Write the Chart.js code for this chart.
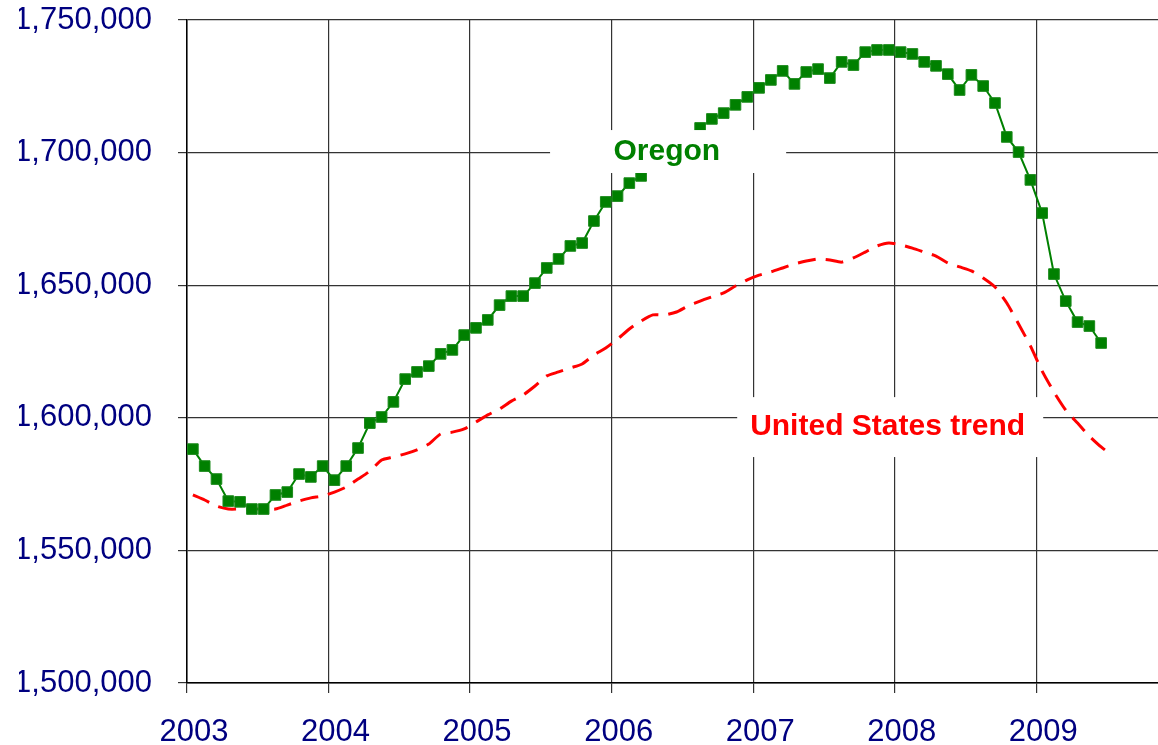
<!DOCTYPE html>
<html>
<head>
<meta charset="utf-8">
<script src="https://cdn.jsdelivr.net/npm/chart.js@4/dist/chart.umd.min.js"></script>
<style>
  html, body { margin: 0; padding: 0; background: #fff; overflow: hidden; }
  #wrap { width: 1158px; height: 745px; position: relative; }
  canvas { display: block; }
</style>
</head>
<body>
<div id="wrap"><canvas id="empChart"></canvas></div>
<script>
// monthly series, Jan 2003 onward
const startYear = 2003;
const yearTicks = [2003, 2004, 2005, 2006, 2007, 2008, 2009];

const oregon = [
  1588200, 1581800, 1576900, 1568600, 1568300, 1565600, 1565600, 1570900, 1572000, 1578800, 1577700, 1581800,
  1576500, 1581800, 1588600, 1598000, 1600300, 1606000, 1614600, 1617300, 1619500, 1624100, 1625600, 1631200,
  1633900, 1636900, 1642500, 1645900, 1645900, 1650800, 1656500, 1659900, 1664800, 1665900, 1674200, 1681400,
  1683600, 1688500, 1691200, 1694600, 1698000, 1701000, 1705100, 1709300, 1712700, 1714900, 1718000, 1721000,
  1724400, 1727400, 1730800, 1725900, 1730400, 1731500, 1728100, 1734200, 1733000, 1737900, 1738700, 1738700,
  1737900, 1737200, 1734200, 1732700, 1729600, 1723600, 1729300, 1725100, 1718700, 1705900, 1700200, 1689700,
  1677200, 1654200, 1644000, 1636100, 1634600, 1628200
];

const usTrend = [
  1570900, 1569000, 1566700, 1565600, 1565600, 1565600, 1565600, 1565600, 1567100, 1568600, 1569800, 1570500,
  1572000, 1573900, 1576900, 1579900, 1584100, 1585200, 1586400, 1587900, 1590100, 1593900, 1594600, 1595800,
  1598400, 1601100, 1603300, 1606300, 1608600, 1612000, 1615800, 1617300, 1618800, 1620300, 1623700, 1626300,
  1629700, 1633500, 1636500, 1638800, 1638800, 1639900, 1642200, 1644000, 1645600, 1647100, 1649700, 1652000,
  1653800, 1655000, 1656500, 1658000, 1659100, 1659900, 1659500, 1658700, 1660300, 1662500, 1664800, 1665900,
  1665200, 1664000, 1662500, 1661000, 1658400, 1656900, 1655400, 1652700, 1649300, 1643300, 1635400, 1627100,
  1617600, 1609700, 1602900, 1598000, 1593100, 1589000, 1585600
];

const monthly = vals => vals.map((v, i) => ({ x: startYear + (i + 0.5) / 12, y: v }));

// text callouts, placed in data units
const callouts = [
  { text: 'Oregon', color: '#008000', x0: 2005.565, x1: 2007.233, y0: 1708500, y1: 1692300, tx: 2006.39, ty: 1700200 },
  { text: 'United States trend', color: '#ff0000', x0: 2006.887, x1: 2009.049, y0: 1607800, y1: 1585200, tx: 2007.95, ty: 1596500 }
];

const FONT = "'Liberation Sans', Arial, sans-serif";

const calloutPlugin = {
  id: 'callouts',
  afterDatasetsDraw(chart) {
    const { ctx, scales: { x, y } } = chart;
    ctx.save();
    callouts.forEach(c => {
      const l = x.getPixelForValue(c.x0), r = x.getPixelForValue(c.x1);
      const t = y.getPixelForValue(c.y0), b = y.getPixelForValue(c.y1);
      ctx.fillStyle = '#fff';
      ctx.fillRect(l, t, r - l, b - t);
      ctx.fillStyle = c.color;
      ctx.font = 'bold 30px ' + FONT;
      ctx.textAlign = 'center';
      ctx.textBaseline = 'middle';
      ctx.fillText(c.text, x.getPixelForValue(c.tx), y.getPixelForValue(c.ty));
    });
    ctx.restore();
  }
};

function draw() {
  const ctx = document.getElementById('empChart');
  new Chart(ctx, {
    type: 'line',
    data: {
      datasets: [
        {
          label: 'Oregon',
          data: monthly(oregon),
          borderColor: '#008000',
          backgroundColor: '#008000',
          borderWidth: 2,
          pointStyle: 'rect',
          pointRadius: 7.5,
          pointBorderWidth: 1,
          pointBorderColor: '#1a8a1a',
          tension: 0
        },
        {
          label: 'United States trend',
          data: monthly(usTrend),
          borderColor: '#ff0000',
          backgroundColor: 'transparent',
          borderWidth: 3,
          borderDash: [18, 10],
          pointRadius: 0,
          tension: 0.2
        }
      ]
    },
    options: {
      responsive: true,
      maintainAspectRatio: false,
      animation: false,
      layout: { autoPadding: false, padding: { left: 19, top: 0, right: 0, bottom: 0 } },
      plugins: {
        legend: { display: false },
        tooltip: { enabled: false }
      },
      scales: {
        x: {
          type: 'linear',
          min: 2003,
          max: 2009.86,
          afterBuildTicks: s => { s.ticks = yearTicks.map(v => ({ value: v })); },
          afterFit: s => { s.height = 62; s.paddingLeft = 0; s.paddingRight = 0; },
          ticks: {
            includeBounds: false,
            autoSkip: false,
            maxRotation: 0,
            color: '#000080',
            font: { family: FONT, size: 31 },
            padding: 21,
            labelOffset: 7,
            callback: v => String(v)
          },
          grid: { color: '#333', lineWidth: 1.2, tickLength: 10 },
          border: { color: '#000', width: 1.5 }
        },
        y: {
          min: 1500000,
          max: 1750000,
          afterFit: s => { s.width = 168; s.paddingTop = 20; s.paddingBottom = 0; },
          ticks: {
            stepSize: 50000,
            color: '#000080',
            font: { family: FONT, size: 31 },
            padding: 26,
            callback: v => v.toLocaleString('en-US')
          },
          grid: { color: '#333', lineWidth: 1.2, tickLength: 9 },
          border: { color: '#000', width: 1.5 }
        }
      }
    },
    plugins: [calloutPlugin]
  });
}

document.fonts.load("31px 'Liberation Sans'").then(draw, draw);
</script>
</body>
</html>
